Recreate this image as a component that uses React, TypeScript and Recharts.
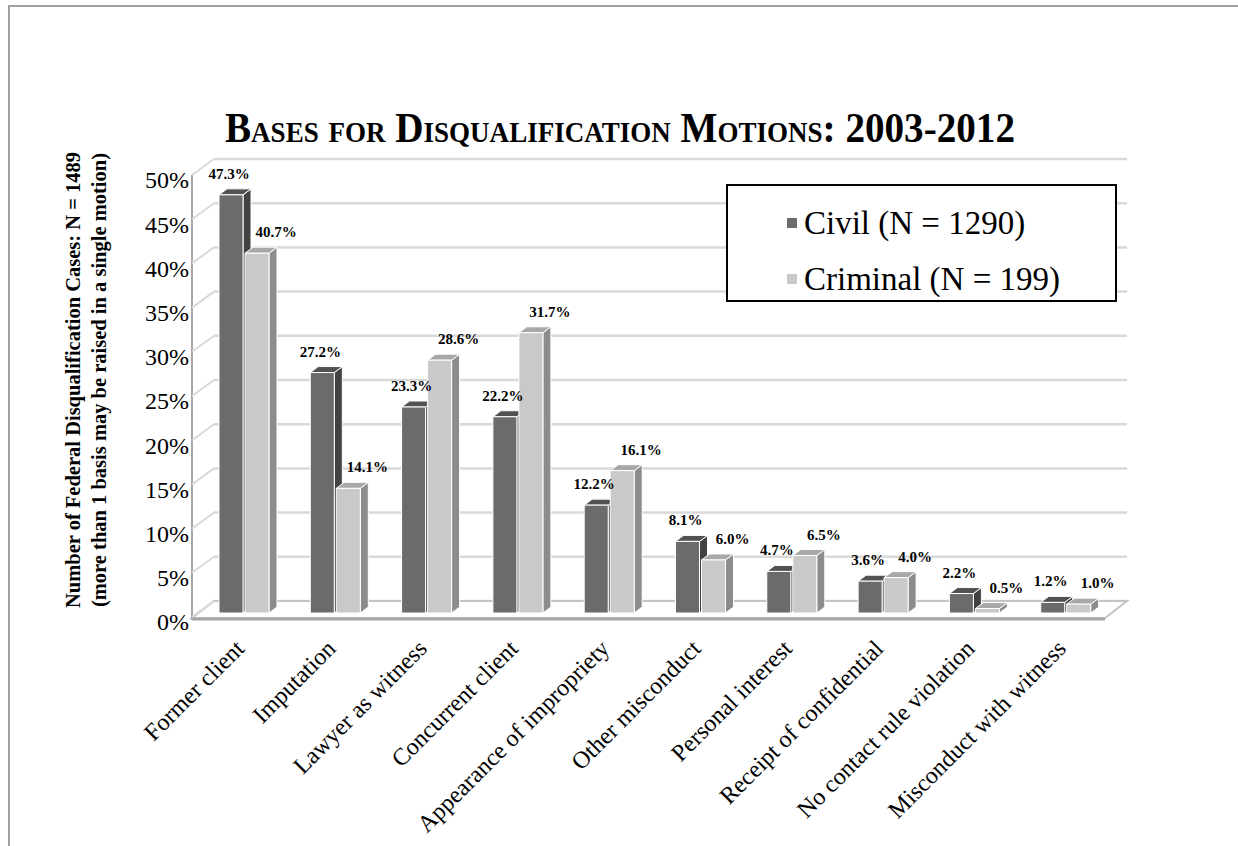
import React from "react";
import { BarChart, Bar, XAxis, YAxis, CartesianGrid, Legend, LabelList, ReferenceArea } from "recharts";

const categories = [
  "Former client",
  "Imputation",
  "Lawyer as witness",
  "Concurrent client",
  "Appearance of impropriety",
  "Other misconduct",
  "Personal interest",
  "Receipt of confidential",
  "No contact rule violation",
  "Misconduct with witness",
];
const civilValues = [47.3, 27.2, 23.3, 22.2, 12.2, 8.1, 4.7, 3.6, 2.2, 1.2];
const criminalValues = [40.7, 14.1, 28.6, 31.7, 16.1, 6.0, 6.5, 4.0, 0.5, 1.0];
const yTicks = [0, 5, 10, 15, 20, 25, 30, 35, 40, 45, 50];

const chartData = categories.map((name, i) => ({
  name,
  civil: civilValues[i],
  criminal: criminalValues[i],
}));

const FONT = '"Liberation Serif", "Times New Roman", Times, serif';

// fake 3d: back wall sits up-right of the bar plane, front edge of floor/side wall down-left
const WALL_X = 16;
const WALL_Y = 12;
const FRONT_X = -6;
const FRONT_Y = 5;
const DEPTH_X = 8;
const DEPTH_Y = 6;

const make3DBar = (front: string, top: string, side: string) => (props: any) => {
  const { x, y, width: w, height: h } = props;
  if (x == null || y == null || !w) return <g />;
  return (
    <g stroke="#ffffff" strokeWidth={1} strokeLinejoin="round">
      <polygon
        points={`${x + w},${y} ${x + w + DEPTH_X},${y - DEPTH_Y} ${x + w + DEPTH_X},${y + h - DEPTH_Y} ${x + w},${y + h}`}
        fill={side}
      />
      <polygon
        points={`${x},${y} ${x + DEPTH_X},${y - DEPTH_Y} ${x + w + DEPTH_X},${y - DEPTH_Y} ${x + w},${y}`}
        fill={top}
      />
      <rect x={x} y={y} width={w} height={h} fill={front} />
    </g>
  );
};

const makeValueLabel = (shiftX: number) => (props: any) => {
  const { x, y, width, value } = props;
  if (x == null || y == null) return null;
  return (
    <text
      x={x + width / 2 + shiftX}
      y={y - 16}
      textAnchor="middle"
      fontSize={15}
      fontWeight="bold"
      fontFamily={FONT}
      fill="#000"
    >
      {Number(value).toFixed(1)}%
    </text>
  );
};

const BackWallLine = (p: any) => (
  <line
    key={`wall-${p.index}`}
    x1={p.x1 + WALL_X}
    x2={p.x2 + WALL_X}
    y1={p.y1 - WALL_Y}
    y2={p.y2 - WALL_Y}
    stroke="#d9d9d9"
    strokeWidth={2.5}
  />
);

const FloorAndWall = (p: any) => {
  const { x, y, width, height } = p;
  const bottom = y + height;
  return (
    <g>
      <polygon
        points={`${x + FRONT_X},${bottom + FRONT_Y} ${x + width + FRONT_X},${bottom + FRONT_Y} ${x + width + WALL_X},${bottom - WALL_Y} ${x + WALL_X},${bottom - WALL_Y}`}
        fill="#ffffff"
        stroke="#c4c4c4"
        strokeWidth={2}
      />
      <line
        x1={x + FRONT_X}
        x2={x + width + FRONT_X}
        y1={bottom + FRONT_Y + 1}
        y2={bottom + FRONT_Y + 1}
        stroke="#a6a6a6"
        strokeWidth={3}
      />
      <line
        x1={x + FRONT_X}
        x2={x + FRONT_X}
        y1={y + FRONT_Y - 1}
        y2={bottom + FRONT_Y + 2}
        stroke="#a6a6a6"
        strokeWidth={2}
      />
    </g>
  );
};

const YTick = (p: any) => {
  const { x, y, payload } = p;
  return (
    <g>
      <line
        x1={x + FRONT_X}
        y1={y + FRONT_Y - 1}
        x2={x + WALL_X}
        y2={y - WALL_Y}
        stroke="#d9d9d9"
        strokeWidth={2}
      />
      <text x={x - 9} y={y + 9} dy="0.35em" textAnchor="end" fontSize={24} fontFamily={FONT} fill="#000">
        {payload.value}%
      </text>
    </g>
  );
};

const XTick = (p: any) => {
  const { x, y, payload } = p;
  const tx = x + 2;
  const ty = y + 37;
  return (
    <text
      x={tx}
      y={ty}
      transform={`rotate(-45 ${tx} ${ty})`}
      textAnchor="end"
      fontSize={24}
      fontFamily={FONT}
      fill="#000"
    >
      {payload.value}
    </text>
  );
};

const LegendBox = (props: any) => {
  const items = props.payload || [];
  return (
    <div
      style={{
        boxSizing: "border-box",
        width: 391,
        height: 118,
        border: "2px solid #000",
        background: "#fff",
        paddingTop: 9,
        paddingLeft: 59,
        fontFamily: FONT,
        fontSize: 33,
        color: "#000",
      }}
    >
      {items.map((entry: any) => (
        <div key={entry.value} style={{ display: "flex", alignItems: "center", height: 56, lineHeight: "56px" }}>
          <span style={{ width: 10, height: 10, background: entry.color, marginRight: 7, flex: "none" }} />
          <span style={{ whiteSpace: "nowrap" }}>{entry.value}</span>
        </div>
      ))}
    </div>
  );
};

export default function App() {
  return (
    <div style={{ position: "absolute", left: 0, top: 0, width: 1238, height: 846, background: "#fff" }}>
      <div
        style={{
          position: "absolute",
          left: 8,
          top: 5,
          width: 1230,
          height: 841,
          borderLeft: "2px solid #a0a0a0",
          borderTop: "2px solid #a0a0a0",
        }}
      />
      <BarChart
        width={1238}
        height={846}
        data={chartData}
        margin={{ top: 171, right: 127, bottom: 133, left: 138 }}
        barGap={2}
        style={{ position: "absolute", left: 0, top: 0 }}
      >
        <CartesianGrid vertical={false} horizontal={BackWallLine} />
        <ReferenceArea y1={0} y2={50} ifOverflow="visible" shape={FloorAndWall} />
        <XAxis
          dataKey="name"
          interval={0}
          tickLine={false}
          axisLine={false}
          tickSize={0}
          tickMargin={0}
          height={100}
          tick={XTick}
        />
        <YAxis
          domain={[0, 50]}
          ticks={yTicks}
          interval={0}
          tickLine={false}
          axisLine={false}
          tickSize={0}
          tickMargin={0}
          width={60}
          tick={YTick}
        />
        <Legend
          layout="vertical"
          align="center"
          verticalAlign="middle"
          content={LegendBox}
          wrapperStyle={{ position: "absolute", left: 726, top: 184, width: 391, height: 118 }}
        />
        <Bar
          dataKey="civil"
          name="Civil (N = 1290)"
          fill="#6b6b6b"
          barSize={24}
          shape={make3DBar("#6b6b6b", "#525252", "#424242")}
          isAnimationActive={false}
        >
          <LabelList dataKey="civil" content={makeValueLabel(-2)} />
        </Bar>
        <Bar
          dataKey="criminal"
          name="Criminal (N = 199)"
          fill="#c9c9c9"
          barSize={24}
          shape={make3DBar("#c9c9c9", "#a8a8a8", "#8c8c8c")}
          isAnimationActive={false}
        >
          <LabelList dataKey="criminal" content={makeValueLabel(19)} />
        </Bar>
      </BarChart>
      <svg
        width={1238}
        height={846}
        style={{ position: "absolute", left: 0, top: 0, pointerEvents: "none" }}
      >
        <text
          x={620}
          y={142}
          textAnchor="middle"
          fontSize={42}
          fontWeight="bold"
          fontFamily={FONT}
          style={{ fontVariant: "small-caps" }}
          textLength={790}
          lengthAdjust="spacingAndGlyphs"
          fill="#000"
        >
          Bases for Disqualification Motions: 2003-2012
        </text>
        <g fontSize={20.5} fontWeight="bold" fontFamily={FONT} fill="#000" textAnchor="middle">
          <text x={80} y={380} transform="rotate(-90 80 380)">
            Number of Federal Disqualification Cases: N = 1489
          </text>
          <text x={106} y={380} transform="rotate(-90 106 380)">
            (more than 1 basis may be raised in a single motion)
          </text>
        </g>
      </svg>
    </div>
  );
}
